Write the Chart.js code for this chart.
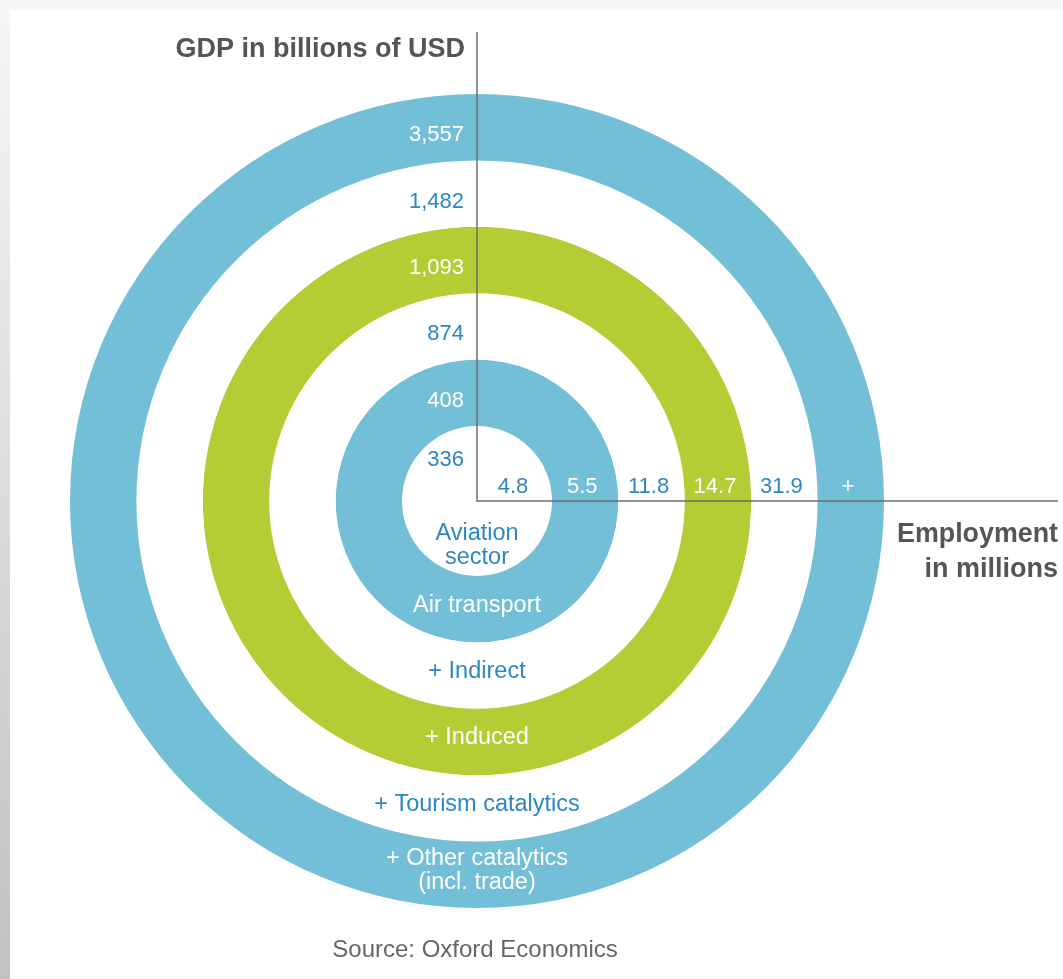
<!DOCTYPE html>
<html>
<head>
<meta charset="utf-8">
<title>Aviation economic impact</title>
<script src="https://cdn.jsdelivr.net/npm/chart.js@4.4.1/dist/chart.umd.min.js"></script>
<style>
  html, body { margin: 0; padding: 0; }
  body {
    width: 1063px; height: 979px; position: relative; overflow: hidden;
    background: #f7f7f7;
  }
  #edge {
    position: absolute; left: 0; top: 10px; width: 10px; height: 969px;
    background: linear-gradient(#f6f6f6, #c1c1c1);
  }
  #panel {
    position: absolute; left: 10px; top: 10px; width: 1053px; height: 969px;
    background: #fff;
  }
  #impact { position: absolute; left: 0; top: 0; }
</style>
</head>
<body>
<div id="edge"></div>
<div id="panel"></div>
<canvas id="impact" width="1063" height="979"></canvas>
<script>
// levels from the centre outwards
var levels = [
  "Aviation\nsector",
  "Air transport",
  "+ Indirect",
  "+ Induced",
  "+ Tourism catalytics",
  "+ Other catalytics\n(incl. trade)",
];
var gdp = [336, 408, 874, 1093, 1482, 3557]; // billions of USD
var jobs = [4.8, 5.5, 11.8, 14.7, 31.9, null]; // millions, null = "+"
var levelColors = ["#ffffff", "#73bfd7", "#ffffff", "#b6cc35", "#ffffff", "#73bfd7"];

var BLUE_TEXT = "#2c87c4";
var FONT = '"Liberation Sans", Arial, sans-serif';

// doughnut datasets go outermost first, so walk the rings backwards
var datasets = [];
for (var k = levels.length - 1; k >= 1; k--) {
  datasets.push({
    label: levels[k],
    data: [gdp[k]],
    backgroundColor: levelColors[k],
    borderWidth: 0,
    hoverOffset: 0,
  });
}

function fmt(v) {
  return v.toLocaleString("en-US");
}

// radius of the middle of each level (0 = centre)
function levelMid(chart, k) {
  if (k === 0) {
    var inner = chart.getDatasetMeta(levels.length - 2).data[0];
    return inner.innerRadius * 0.5;
  }
  var arc = chart.getDatasetMeta(levels.length - 1 - k).data[0];
  return (arc.innerRadius + arc.outerRadius) / 2;
}

var ringLabels = {
  id: "ringLabels",
  afterDraw: function (chart) {
    var ctx = chart.ctx;
    var arc0 = chart.getDatasetMeta(0).data[0];
    var cx = arc0.x, cy = arc0.y;

    ctx.save();
    // axes
    ctx.strokeStyle = "#6e6e6e";
    ctx.lineWidth = 1.5;
    ctx.beginPath();
    ctx.moveTo(cx, 32);
    ctx.lineTo(cx, cy);
    ctx.lineTo(1058, cy);
    ctx.stroke();

    for (var k = 0; k < levels.length; k++) {
      var mid = levelMid(chart, k);
      var col = levelColors[k] === "#ffffff" ? BLUE_TEXT : "#ffffff";
      ctx.fillStyle = col;
      ctx.font = "22px " + FONT;

      // GDP up the vertical axis
      ctx.textAlign = "right";
      ctx.textBaseline = "middle";
      var vy = k === 0 ? cy - 41 : cy - mid + 8;
      ctx.fillText(fmt(gdp[k]), cx - 13, vy);

      // employment along the horizontal axis
      ctx.textAlign = "center";
      ctx.textBaseline = "alphabetic";
      var hx = k === 0 ? cx + 36 : cx + mid - 3;
      ctx.fillText(jobs[k] === null ? "+" : jobs[k].toFixed(1), hx, cy - 8);

      // level name below the centre
      ctx.font = "23.5px " + FONT;
      ctx.textBaseline = "middle";
      var lines = levels[k].split("\n");
      var ly = k === 0 ? cy + 45 : cy + mid - 4;
      var lh = 24;
      for (var j = 0; j < lines.length; j++) {
        ctx.fillText(lines[j], cx, ly + (j - (lines.length - 1) / 2) * lh);
      }
    }

    // axis titles
    ctx.fillStyle = "#555555";
    ctx.font = "bold 27px " + FONT;
    ctx.textAlign = "right";
    ctx.textBaseline = "alphabetic";
    ctx.fillText("GDP in billions of USD", 465, 57, 293);
    ctx.fillText("Employment", 1058, 542, 161);
    ctx.fillText("in millions", 1058, 577);

    // source note
    ctx.fillStyle = "#666666";
    ctx.font = "24px " + FONT;
    ctx.textAlign = "center";
    ctx.textBaseline = "middle";
    ctx.fillText("Source: Oxford Economics", 475, 950);
    ctx.restore();
  },
};

var chart = new Chart(document.getElementById("impact"), {
  type: "doughnut",
  data: { labels: ["GDP"], datasets: datasets },
  options: {
    responsive: false,
    animation: false,
    devicePixelRatio: 1,
    cutout: 75,
    layout: { padding: { left: 70, top: 94, right: 179, bottom: 71 } },
    events: [],
    plugins: {
      legend: { display: false },
      tooltip: { enabled: false },
    },
  },
  plugins: [ringLabels],
});
</script>
</body>
</html>
